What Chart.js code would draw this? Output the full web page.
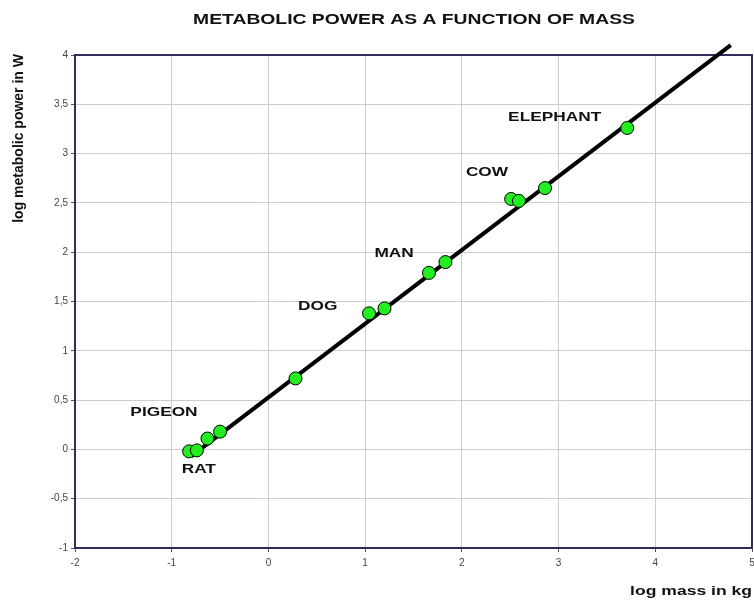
<!DOCTYPE html>
<html>
<head>
<meta charset="utf-8">
<script src="https://cdn.jsdelivr.net/npm/chart.js@4"></script>
<style>
    body { margin: 0; background: #fff; }
    #wrap { width: 754px; height: 601px; }
</style>
</head>
<body>
<div id="wrap"><canvas id="metabolicChart"></canvas></div>
<script>
// log10 of mass (kg) and metabolic power (W)
var massLog  = [-0.82, -0.74, -0.63, -0.50, 0.28, 1.04, 1.20, 1.66, 1.83, 2.51, 2.59, 2.86, 3.71];
var powerLog = [-0.02, -0.01, 0.11, 0.18, 0.72, 1.38, 1.43, 1.79, 1.90, 2.54, 2.52, 2.65, 3.26];

// fitted line ends
var fitX = [-0.80, 4.78];
var fitY = [-0.07, 4.10];

// animal names and where they sit (data units)
var animalNames = ['PIGEON', 'RAT', 'DOG', 'MAN', 'COW', 'ELEPHANT'];
var nameX = [-1.08, -0.72, 0.51, 1.30, 2.26, 2.96];
var nameY = [0.38, -0.20, 1.45, 1.99, 2.81, 3.37];

var chartTitle = 'METABOLIC POWER AS A FUNCTION OF MASS';
var xTitle = 'log mass in kg';
var yTitle = 'log metabolic power in W';

function stretchedText(ctx, text, x, y, font, sx, align, baseline) {
    ctx.save();
    ctx.font = font;
    ctx.fillStyle = '#111';
    ctx.textAlign = align;
    ctx.textBaseline = baseline;
    ctx.translate(x, y);
    ctx.scale(sx, 1);
    ctx.fillText(text, 0, 0);
    ctx.restore();
}

// frame round the plot area
var framePlugin = {
    id: 'frame',
    beforeDatasetsDraw: function(chart) {
        var a = chart.chartArea, ctx = chart.ctx;
        ctx.save();
        ctx.strokeStyle = '#2e2e5c';
        ctx.lineWidth = 2;
        ctx.strokeRect(a.left, a.top, a.right - a.left, a.bottom - a.top);
        ctx.restore();
    }
};

// title, axis titles and animal names
var textPlugin = {
    id: 'texts',
    afterDraw: function(chart) {
        var ctx = chart.ctx;
        var xs = chart.scales.x, ys = chart.scales.y;
        var f = '"Liberation Sans", Arial, sans-serif';

        stretchedText(ctx, chartTitle, 414, 24, 'bold 14px ' + f, 1.38, 'center', 'alphabetic');
        stretchedText(ctx, xTitle, 752, 595, 'bold 13px ' + f, 1.35, 'right', 'alphabetic');

        ctx.save();
        ctx.font = 'bold 14px ' + f;
        ctx.fillStyle = '#111';
        ctx.textAlign = 'right';
        ctx.textBaseline = 'middle';
        ctx.translate(19, 54);
        ctx.rotate(-Math.PI / 2);
        ctx.fillText(yTitle, 0, 0);
        ctx.restore();

        for (var i = 0; i < animalNames.length; i++) {
            stretchedText(ctx, animalNames[i], xs.getPixelForValue(nameX[i]), ys.getPixelForValue(nameY[i]),
                'bold 13px ' + f, 1.33, 'center', 'middle');
        }
    }
};

var points = massLog.map(function(m, i) { return { x: m, y: powerLog[i] }; });
var fitLine = fitX.map(function(m, i) { return { x: m, y: fitY[i] }; });

var ctx = document.getElementById('metabolicChart').getContext('2d');
var myChart = new Chart(ctx, {
    type: 'scatter',
    data: {
        datasets: [{
            label: 'animals',
            data: points,
            backgroundColor: '#22ee22',
            borderColor: '#000',
            borderWidth: 1,
            pointRadius: 6.5,
            pointHoverRadius: 6.5
        }, {
            label: 'fit',
            data: fitLine,
            showLine: true,
            borderColor: '#000',
            borderWidth: 4,
            pointRadius: 0,
            clip: false
        }]
    },
    options: {
        responsive: true,
        maintainAspectRatio: false,
        animation: false,
        layout: { autoPadding: false, padding: { top: 55, right: 2, left: 0, bottom: 0 } },
        plugins: {
            legend: { display: false },
            tooltip: { enabled: false },
            title: { display: false }
        },
        scales: {
            x: {
                type: 'linear',
                min: -2,
                max: 5,
                ticks: {
                    stepSize: 1,
                    padding: 5,
                    color: '#444',
                    font: { size: 10, family: '"Liberation Sans", Arial, sans-serif' }
                },
                grid: { color: '#ccccd8', tickLength: 4, tickColor: '#555' },
                border: { color: '#2e2e5c', width: 2 },
                afterFit: function(scale) {
                    scale.height = 53;
                    scale.paddingLeft = 0;
                    scale.paddingRight = 0;
                }
            },
            y: {
                type: 'linear',
                min: -1,
                max: 4,
                ticks: {
                    stepSize: 0.5,
                    padding: 3,
                    color: '#444',
                    font: { size: 10, family: '"Liberation Sans", Arial, sans-serif' },
                    callback: function(v) { return String(v).replace('.', ','); }
                },
                grid: { color: '#ccccd8', tickLength: 4, tickColor: '#555' },
                border: { color: '#2e2e5c', width: 2 },
                afterFit: function(scale) {
                    scale.width = 75;
                    scale.paddingTop = 0;
                    scale.paddingBottom = 0;
                }
            }
        }
    },
    plugins: [framePlugin, textPlugin]
});
</script>
</body>
</html>
